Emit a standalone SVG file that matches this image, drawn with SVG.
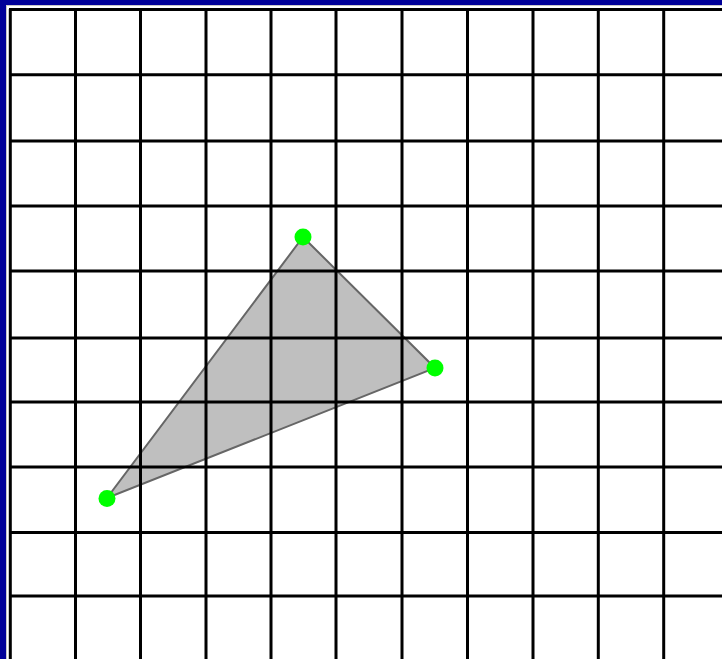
<svg xmlns="http://www.w3.org/2000/svg" width="722" height="659" viewBox="0 0 722 659">
<style>
.grid line{stroke:#000;stroke-width:3}
.dot{fill:#00ff00}
</style>
<rect x="0" y="0" width="722" height="659" fill="#ffffff"/>
<rect x="0" y="0" width="722" height="5" fill="#000099"/>
<rect x="0" y="0" width="6" height="659" fill="#000099"/>
<line x1="6" y1="5.5" x2="722" y2="5.5" stroke="#c8c8c8" stroke-width="1"/>
<line x1="6.5" y1="5" x2="6.5" y2="659" stroke="#c8c8c8" stroke-width="1"/>
<g id="triangle">
<polygon points="303,237 435,368 107,498" fill="#bfbfbf" stroke="#666666" stroke-width="2"/>
</g>
<g class="grid" id="grid">
<line x1="10.3" y1="9" x2="10.3" y2="659"/>
<line x1="75.5" y1="9" x2="75.5" y2="659"/>
<line x1="140.5" y1="9" x2="140.5" y2="659"/>
<line x1="206" y1="9" x2="206" y2="659"/>
<line x1="271" y1="9" x2="271" y2="659"/>
<line x1="336" y1="9" x2="336" y2="659"/>
<line x1="402" y1="9" x2="402" y2="659"/>
<line x1="467.5" y1="9" x2="467.5" y2="659"/>
<line x1="533" y1="9" x2="533" y2="659"/>
<line x1="598.3" y1="9" x2="598.3" y2="659"/>
<line x1="663.7" y1="9" x2="663.7" y2="659"/>
<line x1="9" y1="9.5" x2="722" y2="9.5"/>
<line x1="9" y1="74.7" x2="722" y2="74.7"/>
<line x1="9" y1="141" x2="722" y2="141"/>
<line x1="9" y1="206" x2="722" y2="206"/>
<line x1="9" y1="271" x2="722" y2="271"/>
<line x1="9" y1="338" x2="722" y2="338"/>
<line x1="9" y1="402" x2="722" y2="402"/>
<line x1="9" y1="467" x2="722" y2="467"/>
<line x1="9" y1="532.5" x2="722" y2="532.5"/>
<line x1="9" y1="596" x2="722" y2="596"/>
</g>
<g id="points">
<circle class="dot" cx="303" cy="237" r="8.5"/>
<circle class="dot" cx="435" cy="368" r="8.5"/>
<circle class="dot" cx="107" cy="498.5" r="8.5"/>
</g>
</svg>
